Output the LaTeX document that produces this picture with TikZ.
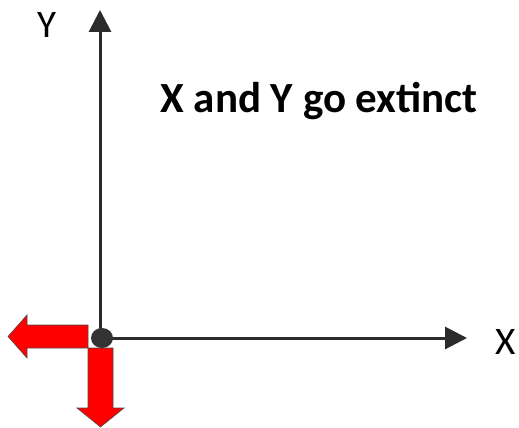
\documentclass[tikz,border=0pt]{standalone}
\usepackage{fontspec}
\setmainfont{Carlito}
\usepackage{xcolor}
\definecolor{axisgray}{HTML}{2B2B2B}
\definecolor{dotgray}{HTML}{333333}
\definecolor{shiftred}{HTML}{FF0000}
\usetikzlibrary{arrows.meta,positioning,shapes.geometric}

\begin{document}
\begin{tikzpicture}[x=1pt,y=-1pt,
  axisline/.style={draw=axisgray,line width=3pt,-{Triangle[length=22pt,width=22pt]}},
  axislabel/.style={font=\fontsize{39}{39}\selectfont,inner sep=0pt},
  shiftarrow/.style={fill=shiftred,draw=black!70,line width=0.6pt,line join=miter},
  origindot/.style={ellipse,fill=dotgray,minimum width=22pt,minimum height=20pt,inner sep=0pt}]
\useasboundingbox (0,0) rectangle (519,428);
% the two axes
\coordinate (ytip) at (100,10);
\coordinate (xtip) at (467,338);
\draw[axisline] (100,338) -- (ytip);
\draw[axisline] (100,338) -- (xtip);
\node[axislabel] (ylab) at (47,25) {Y};
\node[axislabel] (xlab) at (506,342) {X};
% what happens to X and Y
\draw[shiftarrow] (88,325) -- (27,325) -- (27,315) -- (8,336.5) -- (27,358)
  -- (27,348) -- (88,348) -- cycle;
\draw[shiftarrow] (88,348) -- (88,408) -- (77,408) -- (100.5,427) -- (124,408)
  -- (113,408) -- (113,348) -- cycle;
\node[origindot] (origin) at (102,338) {};
\node[font=\bfseries\fontsize{43}{43}\selectfont,inner sep=0pt] (title) at (319,101)
  {X and Y go extinct};
\end{tikzpicture}
\end{document}
